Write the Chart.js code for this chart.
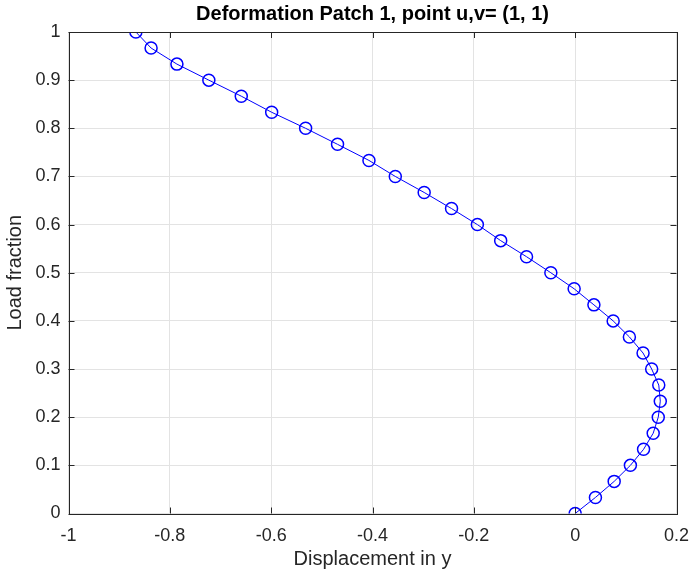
<!DOCTYPE html>
<html>
<head>
<meta charset="utf-8">
<script src="https://cdn.jsdelivr.net/npm/chart.js@4"></script>
<style>
  body { margin: 0; background: #fff; }
  #wrap { width: 692px; height: 576px; }
</style>
</head>
<body>
<div id="wrap"><canvas id="myChart" width="692" height="576"></canvas></div>
<script>
// load fraction steps (y) and displacement in y (x)
var loadFraction = [0, 0.0333, 0.0667, 0.1, 0.1333, 0.1667, 0.2, 0.2333, 0.2667, 0.3,
    0.3333, 0.3667, 0.4, 0.4333, 0.4667, 0.5, 0.5333, 0.5667, 0.6, 0.6333,
    0.6667, 0.7, 0.7333, 0.7667, 0.8, 0.8333, 0.8667, 0.9, 0.9333, 0.9667, 1];
var displacement = [0, 0.040, 0.077, 0.109, 0.135, 0.154, 0.164, 0.168, 0.165, 0.151,
    0.134, 0.107, 0.075, 0.037, -0.002, -0.048, -0.096, -0.147, -0.193, -0.244,
    -0.298, -0.355, -0.407, -0.469, -0.532, -0.599, -0.659, -0.723, -0.786, -0.837, -0.867];
var xTicks = [-1, -0.8, -0.6, -0.4, -0.2, 0, 0.2];
var yTicks = [0, 0.1, 0.2, 0.3, 0.4, 0.5, 0.6, 0.7, 0.8, 0.9, 1];

var pts = displacement.map(function (d, i) { return { x: d, y: loadFraction[i] }; });

var fontFam = '"Liberation Sans", Arial, Helvetica, sans-serif';
var axisCol = '#262626';

// MATLAB style box with inward ticks
var boxPlugin = {
    id: 'box',
    afterDraw: function (chart) {
        var c = chart.ctx, a = chart.chartArea;
        var xs = chart.scales.x, ys = chart.scales.y;
        c.save();
        c.strokeStyle = axisCol;
        c.lineWidth = 1;
        c.beginPath();
        xTicks.forEach(function (t) {
            var px = Math.round(xs.getPixelForValue(t)) + 0.5;
            c.moveTo(px, a.bottom); c.lineTo(px, a.bottom - 6);
            c.moveTo(px, a.top); c.lineTo(px, a.top + 6);
        });
        yTicks.forEach(function (t) {
            var py = Math.round(ys.getPixelForValue(t)) + 0.5;
            c.moveTo(a.left, py); c.lineTo(a.left + 6, py);
            c.moveTo(a.right, py); c.lineTo(a.right - 6, py);
        });
        c.stroke();
        c.strokeRect(Math.round(a.left) + 0.5, Math.round(a.top) + 0.5,
            Math.round(a.right - a.left), Math.round(a.bottom - a.top));
        c.restore();
    }
};

var ctx = document.getElementById('myChart').getContext('2d');
var myChart = new Chart(ctx, {
    type: 'scatter',
    data: {
        datasets: [{
            data: pts,
            showLine: true,
            borderColor: '#0000ff',
            borderWidth: 1,
            pointStyle: 'circle',
            pointRadius: 6,
            pointBorderWidth: 1.5,
            pointBorderColor: '#0000ff',
            pointBackgroundColor: 'rgba(0,0,0,0)',
            tension: 0
        }]
    },
    options: {
        responsive: false,
        animation: false,
        layout: { padding: { left: 4, right: 15.5, top: 0, bottom: 6 } },
        plugins: {
            legend: { display: false },
            tooltip: { enabled: false },
            title: {
                display: true,
                fullSize: false,
                text: 'Deformation Patch 1, point u,v= (1, 1)',
                color: '#000',
                font: { family: fontFam, size: 20, weight: 'bold', lineHeight: 1.1 },
                padding: { top: 3, bottom: 7 }
            }
        },
        scales: {
            x: {
                type: 'linear',
                min: -1, max: 0.2,
                afterBuildTicks: function (s) { s.ticks = xTicks.map(function (v) { return { value: v }; }); },
                afterFit: function (s) { s.height = 56.5; s.paddingLeft = 0; s.paddingRight = 0; },
                ticks: {
                    color: axisCol,
                    font: { family: fontFam, size: 18, lineHeight: 1.1 },
                    padding: 13,
                    maxRotation: 0,
                    callback: function (v) { return String(Math.round(v * 10) / 10); }
                },
                grid: { color: '#e3e3e3', drawTicks: false, lineWidth: 1 },
                border: { display: false },
                title: {
                    display: true,
                    text: 'Displacement in y',
                    color: axisCol,
                    font: { family: fontFam, size: 20, lineHeight: 1.1 },
                    padding: { top: 0, bottom: 0 }
                }
            },
            y: {
                type: 'linear',
                min: 0, max: 1,
                afterBuildTicks: function (s) { s.ticks = yTicks.map(function (v) { return { value: v }; }); },
                afterFit: function (s) { s.width = 64.5; s.paddingTop = 0; s.paddingBottom = 0; },
                ticks: {
                    color: axisCol,
                    font: { family: fontFam, size: 18, lineHeight: 1.1 },
                    padding: 8,
                    callback: function (v) { return String(Math.round(v * 10) / 10); }
                },
                grid: { color: '#e3e3e3', drawTicks: false, lineWidth: 1 },
                border: { display: false },
                title: {
                    display: true,
                    text: 'Load fraction',
                    color: axisCol,
                    font: { family: fontFam, size: 20, lineHeight: 1.1 },
                    padding: { top: 0, bottom: 4 }
                }
            }
        }
    },
    plugins: [boxPlugin]
});
</script>
</body>
</html>
